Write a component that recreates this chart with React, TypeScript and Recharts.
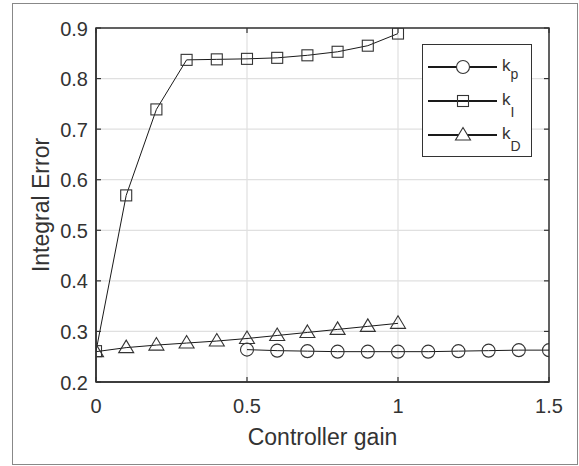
import React from 'react';
import {
  LineChart,
  Line,
  XAxis,
  YAxis,
  CartesianGrid,
  Legend,
  ReferenceArea
} from 'recharts';

// gains and integral error
const gainP = [0.5, 0.6, 0.7, 0.8, 0.9, 1.0, 1.1, 1.2, 1.3, 1.4, 1.5];
const errP = [0.264, 0.262, 0.261, 0.26, 0.26, 0.26, 0.26, 0.261, 0.262, 0.263, 0.263];

const gainI = [0, 0.1, 0.2, 0.3, 0.4, 0.5, 0.6, 0.7, 0.8, 0.9, 1.0];
const errI = [0.261, 0.569, 0.739, 0.837, 0.838, 0.839, 0.841, 0.846, 0.853, 0.865, 0.889];

const gainD = [0, 0.1, 0.2, 0.3, 0.4, 0.5, 0.6, 0.7, 0.8, 0.9, 1.0];
const errD = [0.26, 0.268, 0.273, 0.277, 0.281, 0.286, 0.292, 0.298, 0.304, 0.31, 0.316];

const xTicks = [0, 0.5, 1, 1.5];
const yTicks = [0.2, 0.3, 0.4, 0.5, 0.6, 0.7, 0.8, 0.9];

const W = 579;
const H = 466;
const PLOT_TOP = 28;
const PLOT_RIGHT = 549;
const PLOT_LEFT = 96;
const PLOT_BOTTOM = 382;

const AXIS = '#333';
const TEXT = '#333';
const LINE = '#1a1a1a';
const MARK = '#333';
const FONT = '"Liberation Sans", Arial, Helvetica, sans-serif';

const kpData = gainP.map((x, i) => ({ x, y: errP[i] }));
const kiData = gainI.map((x, i) => ({ x, y: errI[i] }));
const kdData = gainD.map((x, i) => ({ x, y: errD[i] }));

const circleDot = (p: any) => (
  <circle key={`c${p.index}`} cx={p.cx} cy={p.cy} r={6.5} fill="none" stroke={MARK} strokeWidth={1.1} />
);
const squareDot = (p: any) => (
  <rect key={`s${p.index}`} x={p.cx - 5.5} y={p.cy - 5.5} width={11} height={11} fill="none" stroke={MARK} strokeWidth={1.1} />
);
const triangleDot = (p: any) => (
  <polygon
    key={`t${p.index}`}
    points={`${p.cx},${p.cy - 7.5} ${p.cx + 7.5},${p.cy + 5} ${p.cx - 7.5},${p.cy + 5}`}
    fill="none"
    stroke={MARK}
    strokeWidth={1.1}
  />
);

const XTick = ({ x, y, payload }: any) => (
  <g>
    <line x1={x} x2={x} y1={y} y2={y - 5} stroke={AXIS} strokeWidth={1.2} />
    <line x1={x} x2={x} y1={PLOT_TOP} y2={PLOT_TOP + 5} stroke={AXIS} strokeWidth={1.2} />
    <text x={x} y={y + 31} textAnchor="middle" fontSize={20} fill={TEXT} fontFamily={FONT}>
      {String(payload.value)}
    </text>
  </g>
);

const YTick = ({ x, y, payload }: any) => (
  <g>
    <line x1={x} x2={x + 5} y1={y} y2={y} stroke={AXIS} strokeWidth={1.2} />
    <line x1={PLOT_RIGHT - 5} x2={PLOT_RIGHT} y1={y} y2={y} stroke={AXIS} strokeWidth={1.2} />
    <text x={x - 8} y={y + 7.5} textAnchor="end" fontSize={20} fill={TEXT} fontFamily={FONT}>
      {Number(payload.value).toFixed(1)}
    </text>
  </g>
);

const legendItems = [
  { name: 'k', sub: 'p', subDy: 8, shape: 'circle' },
  { name: 'k', sub: 'I', subDy: 12, shape: 'square' },
  { name: 'k', sub: 'D', subDy: 12, shape: 'triangle' }
];

const LegendBox = () => (
  <div style={{ width: 110, height: 113, border: `1px solid ${AXIS}`, background: '#fff', boxSizing: 'border-box' }}>
    <svg width={108} height={111}>
      {legendItems.map((it, i) => {
        const cy = 22 + i * 34;
        const cx = 40;
        return (
          <g key={it.sub}>
            <line x1={5} x2={74} y1={cy} y2={cy} stroke={LINE} strokeWidth={2} />
            {it.shape === 'circle' && <circle cx={cx} cy={cy} r={6.5} fill="#fff" stroke={MARK} strokeWidth={1.1} />}
            {it.shape === 'square' && (
              <rect x={cx - 5.5} y={cy - 5.5} width={11} height={11} fill="none" stroke={MARK} strokeWidth={1.1} />
            )}
            {it.shape === 'triangle' && (
              <polygon
                points={`${cx},${cy - 7.5} ${cx + 7.5},${cy + 5} ${cx - 7.5},${cy + 5}`}
                fill="#fff"
                stroke={MARK}
                strokeWidth={1.1}
              />
            )}
            <text x={79} y={cy + 4} fontSize={17} fill={TEXT} fontFamily={FONT}>
              {it.name}
              <tspan fontSize={14} dy={it.subDy}>{it.sub}</tspan>
            </text>
          </g>
        );
      })}
    </svg>
  </div>
);

export default function App() {
  return (
    <div style={{ position: 'absolute', left: 0, top: 0, width: W, height: H, background: '#fff', fontFamily: FONT }}>
      <div
        style={{
          position: 'absolute',
          left: 12,
          top: 3,
          width: 566,
          height: 462,
          border: '1px solid #888',
          boxSizing: 'border-box'
        }}
      />
      <LineChart width={W} height={H} margin={{ top: PLOT_TOP, right: W - PLOT_RIGHT, bottom: 0, left: 0 }}>
        <CartesianGrid stroke="#e0e0e0" strokeWidth={1.2} />
        <XAxis
          type="number"
          dataKey="x"
          domain={[0, 1.5]}
          ticks={xTicks}
          interval={0}
          height={H - PLOT_BOTTOM}
          tickSize={0}
          tickMargin={0}
          tickLine={false}
          axisLine={{ stroke: AXIS, strokeWidth: 1.5 }}
          tick={<XTick />}
          allowDataOverflow
          label={() => (
            <text x={(PLOT_LEFT + PLOT_RIGHT) / 2} y={445} textAnchor="middle" fontSize={23} fill={TEXT} fontFamily={FONT}>
              Controller gain
            </text>
          )}
        />
        <YAxis
          type="number"
          dataKey="y"
          domain={[0.2, 0.9]}
          ticks={yTicks}
          interval={0}
          width={PLOT_LEFT}
          tickSize={0}
          tickMargin={0}
          tickLine={false}
          axisLine={{ stroke: AXIS, strokeWidth: 1.5 }}
          tick={<YTick />}
          allowDataOverflow
          label={() => (
            <text
              x={49}
              y={(PLOT_TOP + PLOT_BOTTOM) / 2}
              transform={`rotate(-90, 49, ${(PLOT_TOP + PLOT_BOTTOM) / 2})`}
              textAnchor="middle"
              fontSize={23}
              fill={TEXT}
              fontFamily={FONT}
            >
              Integral Error
            </text>
          )}
        />
        <ReferenceArea x1={0} x2={1.5} y1={0.2} y2={0.9} fill="none" stroke={AXIS} strokeWidth={1.5} ifOverflow="visible" />
        <Line data={kpData} dataKey="y" name="kp" type="linear" stroke={LINE} strokeWidth={1} dot={circleDot} activeDot={false} isAnimationActive={false} />
        <Line data={kiData} dataKey="y" name="kI" type="linear" stroke={LINE} strokeWidth={1} dot={squareDot} activeDot={false} isAnimationActive={false} />
        <Line data={kdData} dataKey="y" name="kD" type="linear" stroke={LINE} strokeWidth={1} dot={triangleDot} activeDot={false} isAnimationActive={false} />
        <Legend
          layout="horizontal"
          verticalAlign="middle"
          align="center"
          content={() => <LegendBox />}
          wrapperStyle={{ left: 422, top: 44, width: 110, height: 113 }}
        />
      </LineChart>
    </div>
  );
}
